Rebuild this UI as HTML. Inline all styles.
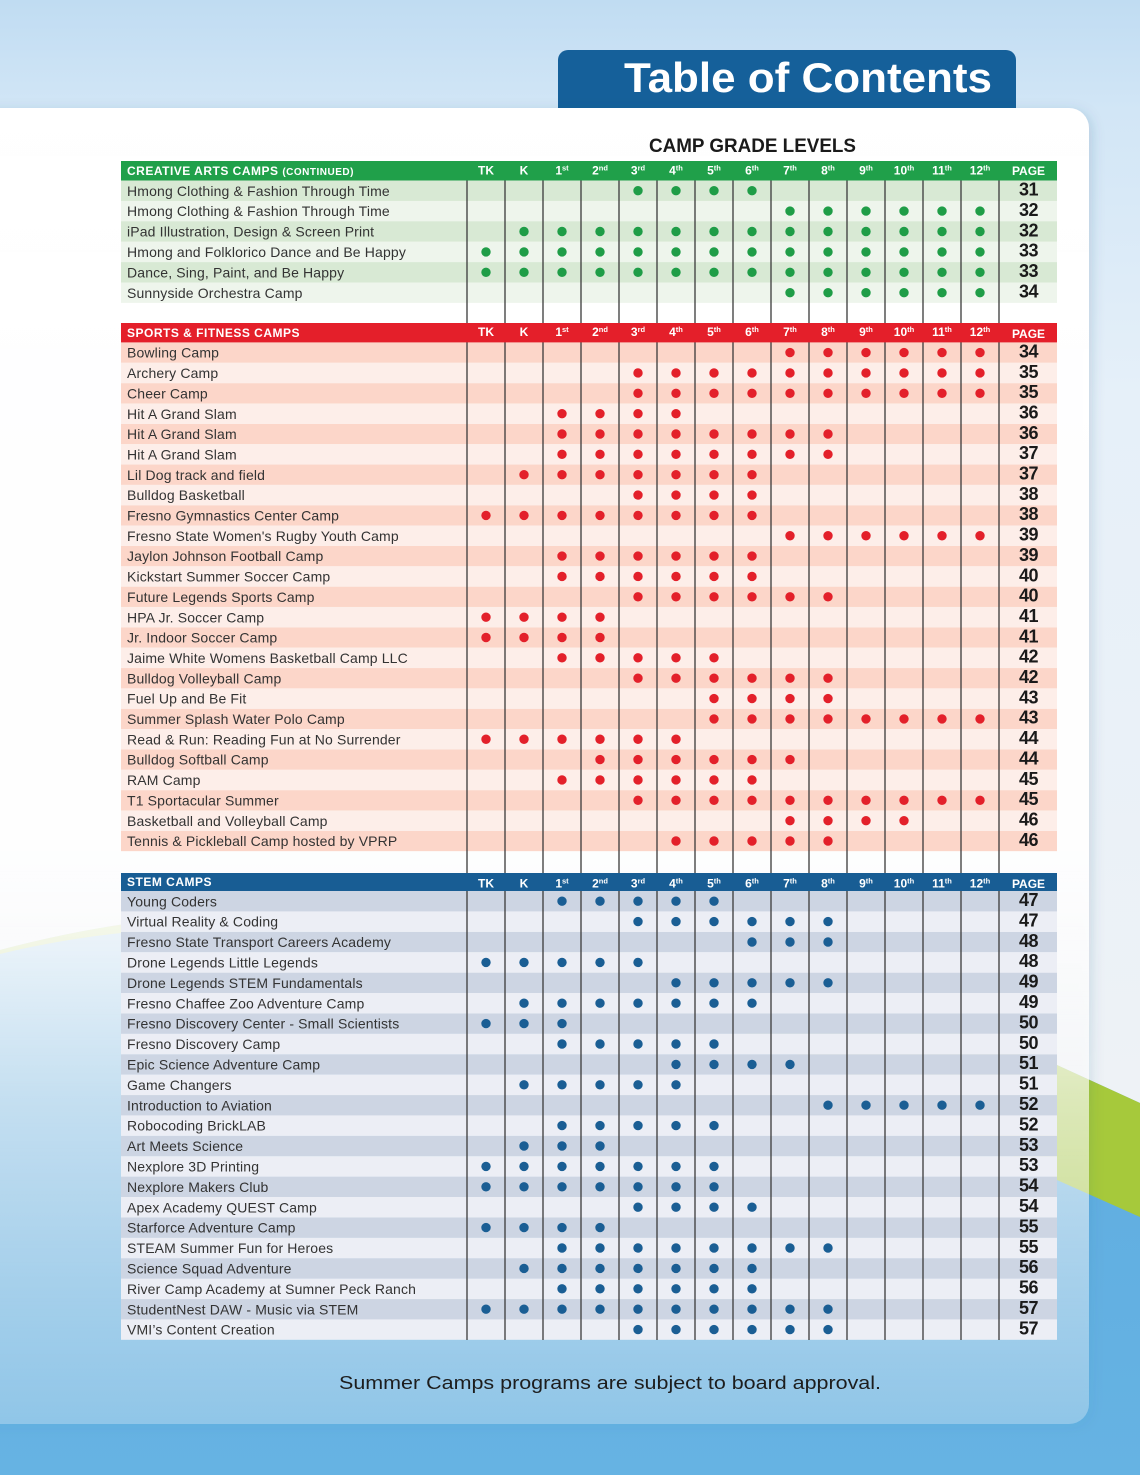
<!DOCTYPE html>
<html><head><meta charset="utf-8"><style>
html,body{margin:0;padding:0;background:#62afe1;}
svg{display:block;}
.nm{font-family:"Liberation Sans",sans-serif;font-size:14px;letter-spacing:0.15px;fill:#333;}
.pg{font-family:"Liberation Sans",sans-serif;font-size:18px;font-weight:bold;fill:#1a1a1a;text-anchor:middle;letter-spacing:-0.5px;}
.hd{font-family:"Liberation Sans",sans-serif;font-size:12px;font-weight:bold;fill:#fff;text-anchor:middle;}
.st{font-family:"Liberation Sans",sans-serif;font-size:12px;font-weight:bold;fill:#fff;letter-spacing:0.5px;}
.dg line{stroke-dasharray:0.01 37.99;stroke-linecap:round;stroke-width:9.4;}
</style></head><body>
<svg width="1140" height="1475" viewBox="0 0 1140 1475" xmlns="http://www.w3.org/2000/svg">
<defs>
<linearGradient id="bgTop" x1="0" y1="0" x2="0" y2="1475" gradientUnits="userSpaceOnUse">
<stop offset="0" stop-color="#c0dcf2"/><stop offset="0.075" stop-color="#d2e6f6"/><stop offset="0.27" stop-color="#e6f0f9"/><stop offset="0.75" stop-color="#eef2f6"/></linearGradient>
<linearGradient id="blu" x1="0" y1="900" x2="0" y2="1475" gradientUnits="userSpaceOnUse">
<stop offset="0" stop-color="#5caadf"/><stop offset="1" stop-color="#66b3e3"/></linearGradient>
<linearGradient id="card" x1="0" y1="108" x2="0" y2="1424" gradientUnits="userSpaceOnUse">
<stop offset="0" stop-color="#fff" stop-opacity="1"/><stop offset="0.56" stop-color="#fff" stop-opacity="0.97"/><stop offset="0.64" stop-color="#fff" stop-opacity="0.85"/><stop offset="0.754" stop-color="#fff" stop-opacity="0.62"/><stop offset="0.906" stop-color="#fff" stop-opacity="0.4"/><stop offset="1" stop-color="#fff" stop-opacity="0.27"/></linearGradient>
<filter id="sh" x="-5%" y="-5%" width="110%" height="110%"><feDropShadow dx="3" dy="3" stdDeviation="6" flood-color="#1b4f7a" flood-opacity="0.18"/></filter>
</defs>
<rect x="0" y="0" width="1140" height="1475" fill="url(#blu)"/>
<path d="M0,0 H1140 V1103 L1057,1065 Q450,830 0,950 Z" fill="url(#bgTop)"/>
<path d="M1140,1103 L1057,1065 Q450,830 0,950 L0,954 Q450,845 1057,1180 L1140,1217 Z" fill="#a6c93b"/>
<rect x="558" y="50" width="458" height="80" rx="10" fill="#15609a"/>
<text x="624" y="92" textLength="368" lengthAdjust="spacingAndGlyphs" font-family="Liberation Sans, sans-serif" font-size="42" font-weight="bold" fill="#fff">Table of Contents</text>
<rect x="-30" y="108" width="1119" height="1316" rx="20" fill="url(#card)" filter="url(#sh)"/>
<text x="752.5" y="152" text-anchor="middle" textLength="207" lengthAdjust="spacingAndGlyphs" font-family="Liberation Sans, sans-serif" font-size="19.5" font-weight="bold" fill="#1a1a1a">CAMP GRADE LEVELS</text>

<!-- Creative rows bg -->
<g>
<rect x="121" y="180.5" width="936" height="20.5" fill="#d8e9d4"/>
<rect x="121" y="200.9" width="936" height="20.5" fill="#eef5ec"/>
<rect x="121" y="221.3" width="936" height="20.5" fill="#d8e9d4"/>
<rect x="121" y="241.7" width="936" height="20.5" fill="#eef5ec"/>
<rect x="121" y="262.1" width="936" height="20.5" fill="#d8e9d4"/>
<rect x="121" y="282.5" width="936" height="20.4" fill="#eef5ec"/>
</g>
<!-- Sports rows bg -->
<g fill="#fcd6c9">
<rect x="121" y="342.4" width="936" height="20.45"/>
<rect x="121" y="383.1" width="936" height="20.45"/>
<rect x="121" y="423.8" width="936" height="20.45"/>
<rect x="121" y="464.5" width="936" height="20.45"/>
<rect x="121" y="505.2" width="936" height="20.45"/>
<rect x="121" y="545.9" width="936" height="20.45"/>
<rect x="121" y="586.6" width="936" height="20.45"/>
<rect x="121" y="627.3" width="936" height="20.45"/>
<rect x="121" y="668.0" width="936" height="20.45"/>
<rect x="121" y="708.7" width="936" height="20.45"/>
<rect x="121" y="749.4" width="936" height="20.45"/>
<rect x="121" y="790.1" width="936" height="20.45"/>
<rect x="121" y="830.8" width="936" height="20.35"/>
</g>
<g fill="#fdeee9">
<rect x="121" y="362.75" width="936" height="20.45"/>
<rect x="121" y="403.45" width="936" height="20.45"/>
<rect x="121" y="444.15" width="936" height="20.45"/>
<rect x="121" y="484.85" width="936" height="20.45"/>
<rect x="121" y="525.55" width="936" height="20.45"/>
<rect x="121" y="566.25" width="936" height="20.45"/>
<rect x="121" y="606.95" width="936" height="20.45"/>
<rect x="121" y="647.65" width="936" height="20.45"/>
<rect x="121" y="688.35" width="936" height="20.45"/>
<rect x="121" y="729.05" width="936" height="20.45"/>
<rect x="121" y="769.75" width="936" height="20.45"/>
<rect x="121" y="810.45" width="936" height="20.45"/>
</g>
<!-- STEM rows bg -->
<g fill="#cdd5e3">
<rect x="121" y="891" width="936" height="20.5"/>
<rect x="121" y="931.8" width="936" height="20.5"/>
<rect x="121" y="972.6" width="936" height="20.5"/>
<rect x="121" y="1013.4" width="936" height="20.5"/>
<rect x="121" y="1054.2" width="936" height="20.5"/>
<rect x="121" y="1095" width="936" height="20.5"/>
<rect x="121" y="1135.8" width="936" height="20.5"/>
<rect x="121" y="1176.6" width="936" height="20.5"/>
<rect x="121" y="1217.4" width="936" height="20.5"/>
<rect x="121" y="1258.2" width="936" height="20.5"/>
<rect x="121" y="1299" width="936" height="20.5"/>
</g>
<g fill="#eceef5">
<rect x="121" y="911.4" width="936" height="20.5"/>
<rect x="121" y="952.2" width="936" height="20.5"/>
<rect x="121" y="993" width="936" height="20.5"/>
<rect x="121" y="1033.8" width="936" height="20.5"/>
<rect x="121" y="1074.6" width="936" height="20.5"/>
<rect x="121" y="1115.4" width="936" height="20.5"/>
<rect x="121" y="1156.2" width="936" height="20.5"/>
<rect x="121" y="1197" width="936" height="20.5"/>
<rect x="121" y="1237.8" width="936" height="20.5"/>
<rect x="121" y="1278.6" width="936" height="20.5"/>
<rect x="121" y="1319.4" width="936" height="20.4"/>
</g>

<!-- vertical lines -->
<path d="M467,180.5V1340M505,180.5V1340M543,180.5V1340M581,180.5V1340M619,180.5V1340M657,180.5V1340M695,180.5V1340M733,180.5V1340M771,180.5V1340M809,180.5V1340M847,180.5V1340M885,180.5V1340M923,180.5V1340M961,180.5V1340M999,180.5V1340" stroke="#3a3a3a" stroke-width="1.3" fill="none"/>

<!-- header bars -->
<rect x="121" y="161" width="936" height="19.5" fill="#20a04a"/>
<rect x="121" y="323" width="936" height="19.4" fill="#e41f2a"/>
<rect x="121" y="873" width="936" height="18" fill="#185d94"/>

<text class="st" x="127" y="175">CREATIVE ARTS CAMPS <tspan font-size="10">(CONTINUED)</tspan></text>
<text class="st" x="127" y="337">SPORTS &amp; FITNESS CAMPS</text>
<text class="st" x="127" y="886">STEM CAMPS</text>

<g class="hd">
<text x="486" y="174.5">TK</text><text x="524" y="174.5">K</text>
<text x="562" y="174.5">1<tspan font-size="7.5" dy="-4">st</tspan></text>
<text x="600" y="174.5">2<tspan font-size="7.5" dy="-4">nd</tspan></text>
<text x="638" y="174.5">3<tspan font-size="7.5" dy="-4">rd</tspan></text>
<text x="676" y="174.5">4<tspan font-size="7.5" dy="-4">th</tspan></text>
<text x="714" y="174.5">5<tspan font-size="7.5" dy="-4">th</tspan></text>
<text x="752" y="174.5">6<tspan font-size="7.5" dy="-4">th</tspan></text>
<text x="790" y="174.5">7<tspan font-size="7.5" dy="-4">th</tspan></text>
<text x="828" y="174.5">8<tspan font-size="7.5" dy="-4">th</tspan></text>
<text x="866" y="174.5">9<tspan font-size="7.5" dy="-4">th</tspan></text>
<text x="904" y="174.5">10<tspan font-size="7.5" dy="-4">th</tspan></text>
<text x="942" y="174.5">11<tspan font-size="7.5" dy="-4">th</tspan></text>
<text x="980" y="174.5">12<tspan font-size="7.5" dy="-4">th</tspan></text>
<text x="1028.5" y="175">PAGE</text>

<text x="486" y="336">TK</text><text x="524" y="336">K</text>
<text x="562" y="336">1<tspan font-size="7.5" dy="-4">st</tspan></text>
<text x="600" y="336">2<tspan font-size="7.5" dy="-4">nd</tspan></text>
<text x="638" y="336">3<tspan font-size="7.5" dy="-4">rd</tspan></text>
<text x="676" y="336">4<tspan font-size="7.5" dy="-4">th</tspan></text>
<text x="714" y="336">5<tspan font-size="7.5" dy="-4">th</tspan></text>
<text x="752" y="336">6<tspan font-size="7.5" dy="-4">th</tspan></text>
<text x="790" y="336">7<tspan font-size="7.5" dy="-4">th</tspan></text>
<text x="828" y="336">8<tspan font-size="7.5" dy="-4">th</tspan></text>
<text x="866" y="336">9<tspan font-size="7.5" dy="-4">th</tspan></text>
<text x="904" y="336">10<tspan font-size="7.5" dy="-4">th</tspan></text>
<text x="942" y="336">11<tspan font-size="7.5" dy="-4">th</tspan></text>
<text x="980" y="336">12<tspan font-size="7.5" dy="-4">th</tspan></text>
<text x="1028.5" y="338">PAGE</text>

<text x="486" y="887.5">TK</text><text x="524" y="887.5">K</text>
<text x="562" y="887.5">1<tspan font-size="7.5" dy="-4">st</tspan></text>
<text x="600" y="887.5">2<tspan font-size="7.5" dy="-4">nd</tspan></text>
<text x="638" y="887.5">3<tspan font-size="7.5" dy="-4">rd</tspan></text>
<text x="676" y="887.5">4<tspan font-size="7.5" dy="-4">th</tspan></text>
<text x="714" y="887.5">5<tspan font-size="7.5" dy="-4">th</tspan></text>
<text x="752" y="887.5">6<tspan font-size="7.5" dy="-4">th</tspan></text>
<text x="790" y="887.5">7<tspan font-size="7.5" dy="-4">th</tspan></text>
<text x="828" y="887.5">8<tspan font-size="7.5" dy="-4">th</tspan></text>
<text x="866" y="887.5">9<tspan font-size="7.5" dy="-4">th</tspan></text>
<text x="904" y="887.5">10<tspan font-size="7.5" dy="-4">th</tspan></text>
<text x="942" y="887.5">11<tspan font-size="7.5" dy="-4">th</tspan></text>
<text x="980" y="887.5">12<tspan font-size="7.5" dy="-4">th</tspan></text>
<text x="1028.5" y="888">PAGE</text>
</g>

<!-- Creative names -->
<g class="nm">
<text x="127" y="195.8">Hmong Clothing &amp; Fashion Through Time</text>
<text x="127" y="216.2">Hmong Clothing &amp; Fashion Through Time</text>
<text x="127" y="236.6">iPad Illustration, Design &amp; Screen Print</text>
<text x="127" y="257">Hmong and Folklorico Dance and Be Happy</text>
<text x="127" y="277.4">Dance, Sing, Paint, and Be Happy</text>
<text x="127" y="297.8">Sunnyside Orchestra Camp</text>
</g>
<g class="pg">
<text x="1028.5" y="195.5">31</text><text x="1028.5" y="215.9">32</text><text x="1028.5" y="236.3">32</text>
<text x="1028.5" y="256.7">33</text><text x="1028.5" y="277.1">33</text><text x="1028.5" y="297.5">34</text>
</g>
<g class="dg" stroke="#1f9d47">
<line x1="638" x2="752.5" y1="190.7" y2="190.7"/>
<line x1="790" x2="980.5" y1="211.1" y2="211.1"/>
<line x1="524" x2="980.5" y1="231.5" y2="231.5"/>
<line x1="486" x2="980.5" y1="251.9" y2="251.9"/>
<line x1="486" x2="980.5" y1="272.3" y2="272.3"/>
<line x1="790" x2="980.5" y1="292.7" y2="292.7"/>
</g>

<!-- Sports names -->
<g class="nm">
<text x="127" y="357.7">Bowling Camp</text>
<text x="127" y="378.05">Archery Camp</text>
<text x="127" y="398.4">Cheer Camp</text>
<text x="127" y="418.75">Hit A Grand Slam</text>
<text x="127" y="439.1">Hit A Grand Slam</text>
<text x="127" y="459.45">Hit A Grand Slam</text>
<text x="127" y="479.8">Lil Dog track and field</text>
<text x="127" y="500.15">Bulldog Basketball</text>
<text x="127" y="520.5">Fresno Gymnastics Center Camp</text>
<text x="127" y="540.85">Fresno State Women's Rugby Youth Camp</text>
<text x="127" y="561.2">Jaylon Johnson Football Camp</text>
<text x="127" y="581.55">Kickstart Summer Soccer Camp</text>
<text x="127" y="601.9">Future Legends Sports Camp</text>
<text x="127" y="622.25">HPA Jr. Soccer Camp</text>
<text x="127" y="642.6">Jr. Indoor Soccer Camp</text>
<text x="127" y="662.95">Jaime White Womens Basketball Camp LLC</text>
<text x="127" y="683.3">Bulldog Volleyball Camp</text>
<text x="127" y="703.65">Fuel Up and Be Fit</text>
<text x="127" y="724">Summer Splash Water Polo Camp</text>
<text x="127" y="744.35">Read &amp; Run: Reading Fun at No Surrender</text>
<text x="127" y="764.7">Bulldog Softball Camp</text>
<text x="127" y="785.05">RAM Camp</text>
<text x="127" y="805.4">T1 Sportacular Summer</text>
<text x="127" y="825.75">Basketball and Volleyball Camp</text>
<text x="127" y="846.1">Tennis &amp; Pickleball Camp hosted by VPRP</text>
</g>
<g class="pg">
<text x="1028.5" y="357.4">34</text><text x="1028.5" y="377.75">35</text><text x="1028.5" y="398.1">35</text>
<text x="1028.5" y="418.45">36</text><text x="1028.5" y="438.8">36</text><text x="1028.5" y="459.15">37</text>
<text x="1028.5" y="479.5">37</text><text x="1028.5" y="499.85">38</text><text x="1028.5" y="520.2">38</text>
<text x="1028.5" y="540.55">39</text><text x="1028.5" y="560.9">39</text><text x="1028.5" y="581.25">40</text>
<text x="1028.5" y="601.6">40</text><text x="1028.5" y="621.95">41</text><text x="1028.5" y="642.3">41</text>
<text x="1028.5" y="662.65">42</text><text x="1028.5" y="683">42</text><text x="1028.5" y="703.35">43</text>
<text x="1028.5" y="723.7">43</text><text x="1028.5" y="744.05">44</text><text x="1028.5" y="764.4">44</text>
<text x="1028.5" y="784.75">45</text><text x="1028.5" y="805.1">45</text><text x="1028.5" y="825.45">46</text>
<text x="1028.5" y="845.8">46</text>
</g>
<g class="dg" stroke="#e3202a">
<line x1="790" x2="980.5" y1="352.6" y2="352.6"/>
<line x1="638" x2="980.5" y1="372.95" y2="372.95"/>
<line x1="638" x2="980.5" y1="393.3" y2="393.3"/>
<line x1="562" x2="676.5" y1="413.65" y2="413.65"/>
<line x1="562" x2="828.5" y1="434" y2="434"/>
<line x1="562" x2="828.5" y1="454.35" y2="454.35"/>
<line x1="524" x2="752.5" y1="474.7" y2="474.7"/>
<line x1="638" x2="752.5" y1="495.05" y2="495.05"/>
<line x1="486" x2="752.5" y1="515.4" y2="515.4"/>
<line x1="790" x2="980.5" y1="535.75" y2="535.75"/>
<line x1="562" x2="752.5" y1="556.1" y2="556.1"/>
<line x1="562" x2="752.5" y1="576.45" y2="576.45"/>
<line x1="638" x2="828.5" y1="596.8" y2="596.8"/>
<line x1="486" x2="600.5" y1="617.15" y2="617.15"/>
<line x1="486" x2="600.5" y1="637.5" y2="637.5"/>
<line x1="562" x2="714.5" y1="657.85" y2="657.85"/>
<line x1="638" x2="828.5" y1="678.2" y2="678.2"/>
<line x1="714" x2="828.5" y1="698.55" y2="698.55"/>
<line x1="714" x2="980.5" y1="718.9" y2="718.9"/>
<line x1="486" x2="676.5" y1="739.25" y2="739.25"/>
<line x1="600" x2="790.5" y1="759.6" y2="759.6"/>
<line x1="562" x2="752.5" y1="779.95" y2="779.95"/>
<line x1="638" x2="980.5" y1="800.3" y2="800.3"/>
<line x1="790" x2="904.5" y1="820.65" y2="820.65"/>
<line x1="676" x2="828.5" y1="841" y2="841"/>
</g>

<!-- STEM names -->
<g class="nm">
<text x="127" y="906.3">Young Coders</text>
<text x="127" y="926.7">Virtual Reality &amp; Coding</text>
<text x="127" y="947.1">Fresno State Transport Careers Academy</text>
<text x="127" y="967.5">Drone Legends Little Legends</text>
<text x="127" y="987.9">Drone Legends STEM Fundamentals</text>
<text x="127" y="1008.3">Fresno Chaffee Zoo Adventure Camp</text>
<text x="127" y="1028.7">Fresno Discovery Center - Small Scientists</text>
<text x="127" y="1049.1">Fresno Discovery Camp</text>
<text x="127" y="1069.5">Epic Science Adventure Camp</text>
<text x="127" y="1089.9">Game Changers</text>
<text x="127" y="1110.3">Introduction to Aviation</text>
<text x="127" y="1130.7">Robocoding BrickLAB</text>
<text x="127" y="1151.1">Art Meets Science</text>
<text x="127" y="1171.5">Nexplore 3D Printing</text>
<text x="127" y="1191.9">Nexplore Makers Club</text>
<text x="127" y="1212.3">Apex Academy QUEST Camp</text>
<text x="127" y="1232.7">Starforce Adventure Camp</text>
<text x="127" y="1253.1">STEAM Summer Fun for Heroes</text>
<text x="127" y="1273.5">Science Squad Adventure</text>
<text x="127" y="1293.9">River Camp Academy at Sumner Peck Ranch</text>
<text x="127" y="1314.3">StudentNest DAW - Music via STEM</text>
<text x="127" y="1334.7">VMI’s Content Creation</text>
</g>
<g class="pg">
<text x="1028.5" y="906">47</text><text x="1028.5" y="926.4">47</text><text x="1028.5" y="946.8">48</text>
<text x="1028.5" y="967.2">48</text><text x="1028.5" y="987.6">49</text><text x="1028.5" y="1008">49</text>
<text x="1028.5" y="1028.4">50</text><text x="1028.5" y="1048.8">50</text><text x="1028.5" y="1069.2">51</text>
<text x="1028.5" y="1089.6">51</text><text x="1028.5" y="1110">52</text><text x="1028.5" y="1130.4">52</text>
<text x="1028.5" y="1150.8">53</text><text x="1028.5" y="1171.2">53</text><text x="1028.5" y="1191.6">54</text>
<text x="1028.5" y="1212">54</text><text x="1028.5" y="1232.4">55</text><text x="1028.5" y="1252.8">55</text>
<text x="1028.5" y="1273.2">56</text><text x="1028.5" y="1293.6">56</text><text x="1028.5" y="1314">57</text>
<text x="1028.5" y="1334.4">57</text>
</g>
<g class="dg" stroke="#1a5e94">
<line x1="562" x2="714.5" y1="901.2" y2="901.2"/>
<line x1="638" x2="828.5" y1="921.6" y2="921.6"/>
<line x1="752" x2="828.5" y1="942" y2="942"/>
<line x1="486" x2="638.5" y1="962.4" y2="962.4"/>
<line x1="676" x2="828.5" y1="982.8" y2="982.8"/>
<line x1="524" x2="752.5" y1="1003.2" y2="1003.2"/>
<line x1="486" x2="562.5" y1="1023.6" y2="1023.6"/>
<line x1="562" x2="714.5" y1="1044" y2="1044"/>
<line x1="676" x2="790.5" y1="1064.4" y2="1064.4"/>
<line x1="524" x2="676.5" y1="1084.8" y2="1084.8"/>
<line x1="828" x2="980.5" y1="1105.2" y2="1105.2"/>
<line x1="562" x2="714.5" y1="1125.6" y2="1125.6"/>
<line x1="524" x2="600.5" y1="1146" y2="1146"/>
<line x1="486" x2="714.5" y1="1166.4" y2="1166.4"/>
<line x1="486" x2="714.5" y1="1186.8" y2="1186.8"/>
<line x1="638" x2="752.5" y1="1207.2" y2="1207.2"/>
<line x1="486" x2="600.5" y1="1227.6" y2="1227.6"/>
<line x1="562" x2="828.5" y1="1248" y2="1248"/>
<line x1="524" x2="752.5" y1="1268.4" y2="1268.4"/>
<line x1="562" x2="752.5" y1="1288.8" y2="1288.8"/>
<line x1="486" x2="828.5" y1="1309.2" y2="1309.2"/>
<line x1="638" x2="828.5" y1="1329.6" y2="1329.6"/>
</g>

<text x="339" y="1389" textLength="542" lengthAdjust="spacingAndGlyphs" font-family="Liberation Sans, sans-serif" font-size="18.5" fill="#1d1d1d">Summer Camps programs are subject to board approval.</text>
</svg>
</body></html>
